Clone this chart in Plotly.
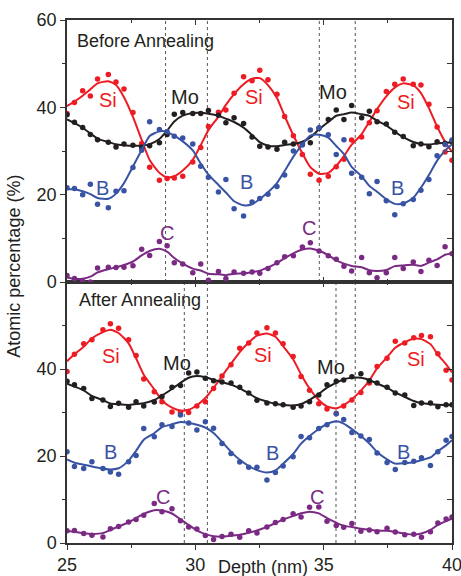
import numpy as np
import plotly.graph_objects as go

# ---------------- depth profile data (atomic %) ----------------
depth_before = [25.00, 25.29, 25.61, 25.91, 26.19, 26.61, 26.91, 27.22, 27.57, 27.91,
                28.22, 28.60, 28.90, 29.18, 29.51, 29.90, 30.21, 30.51, 30.90, 31.19,
                31.51, 31.88, 32.21, 32.51, 32.83, 33.18, 33.48, 33.82, 34.17, 34.48,
                34.82, 35.18, 35.49, 35.79, 36.09, 36.48, 36.78, 37.08, 37.44, 37.77,
                38.10, 38.49, 38.79, 39.10, 39.42, 39.73, 40.00]
si_before = [38.6, 41.1, 43.8, 42.6, 46.5, 47.5, 45.8, 44.2, 38.8, 31.7,
             26.3, 23.3, 23.7, 23.8, 24.2, 27.5, 30.8, 35.6, 38.9, 39.4,
             43.2, 47.0, 46.1, 48.5, 46.3, 43.0, 37.9, 33.5, 29.2, 24.7,
             23.3, 24.2, 26.4, 28.1, 32.5, 33.2, 36.5, 39.2, 43.6, 45.3,
             46.5, 45.3, 45.1, 40.7, 35.5, 29.8, 27.9]
mo_before = [38.3, 36.6, 35.4, 33.8, 32.6, 32.0, 30.9, 31.6, 31.3, 30.8,
             31.2, 31.9, 33.8, 38.4, 38.8, 38.6, 38.6, 39.3, 38.2, 36.5,
             37.6, 36.3, 33.2, 31.1, 30.9, 30.4, 32.0, 31.6, 31.6, 31.9,
             35.2, 37.2, 39.4, 37.2, 40.4, 37.6, 39.1, 36.7, 36.2, 34.3,
             33.3, 31.2, 31.6, 31.0, 32.1, 31.8, 32.1]
b_before = [21.6, 21.4, 20.0, 22.4, 17.8, 17.0, 20.8, 20.9, 26.2, 30.2,
            36.7, 34.9, 34.4, 33.4, 33.0, 31.6, 26.5, 24.0, 20.6, 23.5,
            16.8, 15.1, 18.3, 19.1, 20.1, 21.9, 24.5, 30.0, 31.4, 34.8,
            35.3, 33.7, 29.2, 32.6, 24.9, 24.0, 20.2, 23.0, 18.6, 15.4,
            17.9, 18.9, 21.0, 23.5, 28.9, 31.5, 32.5]
c_before = [1.5, 0.8, 0.2, 0.0, 3.2, 3.4, 3.3, 3.4, 3.7, 7.5,
            6.1, 9.3, 8.3, 4.4, 4.1, 2.1, 4.1, 0.4, 2.4, 0.8,
            2.3, 2.0, 2.3, 2.0, 3.1, 4.4, 5.8, 6.0, 8.0, 9.0,
            7.1, 6.0, 5.2, 3.6, 2.5, 5.6, 2.1, 1.0, 2.1, 5.6,
            3.1, 4.6, 2.4, 5.0, 3.8, 8.1, 6.5]

depth_after = [25.00, 25.29, 25.65, 25.97, 26.40, 26.69, 27.01, 27.40, 27.69, 27.99,
               28.40, 28.70, 29.09, 29.42, 29.74, 30.06, 30.39, 30.71, 31.04, 31.39,
               31.73, 32.08, 32.40, 32.79, 33.12, 33.42, 33.81, 34.12, 34.45, 34.81,
               35.13, 35.49, 35.78, 36.10, 36.45, 36.78, 37.08, 37.47, 37.79, 38.16,
               38.51, 38.81, 39.16, 39.45, 39.77, 40.00]
si_after = [39.4, 43.4, 45.8, 46.7, 49.0, 50.4, 49.4, 46.7, 43.1, 37.7,
            34.8, 32.5, 30.1, 30.0, 30.0, 31.5, 32.5, 35.5, 38.4, 41.0,
            44.8, 46.0, 48.3, 49.5, 48.3, 45.8, 42.9, 38.3, 35.1, 32.0,
            30.8, 29.8, 31.5, 32.9, 34.6, 36.8, 40.6, 42.5, 46.4, 46.0,
            47.2, 47.7, 47.4, 43.5, 39.7, 37.5]
mo_after = [37.2, 36.4, 35.5, 33.2, 32.9, 31.4, 32.1, 31.2, 32.5, 31.5,
            32.4, 33.7, 35.8, 36.2, 39.1, 39.3, 37.9, 37.3, 37.0, 36.8,
            35.8, 34.5, 32.8, 32.2, 32.0, 31.8, 31.2, 31.5, 32.5, 34.0,
            36.4, 37.2, 37.5, 38.2, 38.9, 37.3, 36.8, 35.8, 34.5, 34.0,
            31.6, 32.2, 32.2, 31.3, 31.8, 31.8]
b_after = [21.0, 17.6, 17.1, 18.7, 17.1, 16.3, 15.8, 18.7, 20.1, 26.3,
           24.4, 27.2, 26.8, 29.4, 27.6, 26.0, 27.9, 26.4, 22.9, 20.6,
           18.6, 17.4, 17.4, 14.5, 16.2, 17.7, 19.8, 24.5, 24.2, 26.3,
           27.2, 29.7, 28.4, 25.4, 24.6, 23.8, 20.7, 18.5, 16.9, 18.5,
           18.8, 19.6, 17.8, 21.0, 23.6, 24.5]
c_after = [2.8, 2.9, 2.2, 1.8, 1.4, 3.3, 3.8, 4.8, 5.4, 6.4,
           9.1, 7.2, 7.9, 5.1, 3.7, 3.2, 1.7, 0.8, 1.5, 2.0,
           1.3, 2.8, 2.3, 3.7, 4.7, 5.4, 6.7, 6.0, 8.2, 8.3,
           5.0, 4.0, 3.6, 4.5, 2.7, 3.0, 2.6, 3.4, 2.5, 1.9,
           2.0, 1.3, 2.6, 4.6, 5.5, 6.0]

# layer interface positions (nm)
interfaces_before = [28.84, 30.47, 34.83, 36.23]
interfaces_after = [29.57, 30.47, 35.48, 36.23]

x_ticks = [25, 30, 35, 40]
x_minor = [27.5, 32.5, 37.5]

COLORS = {"Si": "#ED1C24", "Mo": "#231F20", "B": "#3953A4", "C": "#7B2A84"}
FONT = "Liberation Sans, Arial, sans-serif"
AXIS_COLOR = "#333333"


def smooth(values):
    """Weighted adjacent averaging (1-2-3-2-1) of a profile."""
    v = np.asarray(values, dtype=float)
    w = np.array([1, 2, 3, 2, 1], dtype=float)
    n = len(v)
    out = np.empty(n)
    for i in range(n):
        lo, hi = max(0, i - 2), min(n, i + 3)
        ww = w[lo - i + 2: hi - i + 2]
        out[i] = np.dot(ww, v[lo:hi]) / ww.sum()
    return out


fig = go.Figure()

panels = [
    ("x2", "y2", depth_before, {"Si": si_before, "Mo": mo_before, "B": b_before, "C": c_before}),
    ("x", "y", depth_after, {"Si": si_after, "Mo": mo_after, "B": b_after, "C": c_after}),
]

for xa, ya, depth, series in panels:
    for name, vals in series.items():
        col = COLORS[name]
        fig.add_trace(go.Scatter(
            x=depth, y=smooth(vals), mode="lines",
            line=dict(color=col, width=2, shape="spline", smoothing=0.6),
            xaxis=xa, yaxis=ya, showlegend=False, hoverinfo="skip"))
        fig.add_trace(go.Scatter(
            x=depth, y=vals, mode="markers",
            marker=dict(color=col, size=5.5),
            xaxis=xa, yaxis=ya, showlegend=False, name=name))

# empty traces so the mirrored tick axes are drawn
for xa, ya in [("x3", "y"), ("x4", "y2"), ("x", "y3"), ("x2", "y4")]:
    fig.add_trace(go.Scatter(x=[], y=[], xaxis=xa, yaxis=ya,
                             showlegend=False, hoverinfo="skip"))

# interface guide lines
shapes = []
for xv in interfaces_before:
    shapes.append(dict(type="line", xref="x2", yref="y2 domain", x0=xv, x1=xv, y0=0, y1=1,
                       line=dict(color="#555555", width=1, dash="dot"), layer="below"))
for xv in interfaces_after:
    shapes.append(dict(type="line", xref="x", yref="y domain", x0=xv, x1=xv, y0=0, y1=1,
                       line=dict(color="#555555", width=1, dash="dot"), layer="below"))

split = 0.499
common_x = dict(range=[25, 40], showgrid=False, zeroline=False, showline=True,
                linecolor=AXIS_COLOR, linewidth=1.5, tickcolor=AXIS_COLOR,
                tickwidth=1, tickvals=x_ticks, ticklen=5, automargin=False)
common_y = dict(range=[0, 60], showgrid=False, zeroline=False, showline=True,
                linecolor=AXIS_COLOR, linewidth=1.5, tickcolor=AXIS_COLOR,
                tickwidth=1, ticklen=5, automargin=False)

fig.update_layout(
    width=461, height=576,
    margin=dict(l=67, r=9, t=20, b=33, autoexpand=False),
    paper_bgcolor="white", plot_bgcolor="white",
    font=dict(family=FONT, size=18, color="#231F20"),
    shapes=shapes,
    xaxis=dict(common_x, anchor="y", ticks="outside", ticklabeloverflow="allow",
               minor=dict(tickvals=x_minor, ticklen=3, tickcolor=AXIS_COLOR, ticks="outside")),
    xaxis2=dict(common_x, anchor="y2", ticks="inside", showticklabels=False,
                minor=dict(tickvals=x_minor, ticklen=3, tickcolor=AXIS_COLOR, ticks="inside")),
    xaxis3=dict(common_x, overlaying="x", side="top", anchor="y", ticks="inside",
                showticklabels=False,
                minor=dict(tickvals=x_minor, ticklen=3, tickcolor=AXIS_COLOR, ticks="inside")),
    xaxis4=dict(common_x, overlaying="x2", side="top", anchor="y2", ticks="inside",
                showticklabels=False,
                minor=dict(tickvals=x_minor, ticklen=3, tickcolor=AXIS_COLOR, ticks="inside")),
    yaxis=dict(common_y, domain=[0, split], anchor="x", ticks="outside",
               tickvals=[0, 20, 40, 60], ticktext=["0", "20", "40", ""],
               minor=dict(tickvals=[10, 30, 50], ticklen=3, tickcolor=AXIS_COLOR, ticks="outside")),
    yaxis2=dict(common_y, domain=[split, 1], anchor="x2", ticks="outside",
                tickvals=[0, 20, 40, 60],
                minor=dict(tickvals=[10, 30, 50], ticklen=3, tickcolor=AXIS_COLOR, ticks="outside")),
    yaxis3=dict(common_y, overlaying="y", side="right", anchor="x", ticks="inside",
                tickvals=[0, 10, 20, 30, 40, 50, 60], showticklabels=False),
    yaxis4=dict(common_y, overlaying="y2", side="right", anchor="x2", ticks="inside",
                tickvals=[0, 10, 20, 30, 40, 50, 60], showticklabels=False),
)

annotations = [
    dict(text="Before Annealing", xref="paper", yref="paper", x=0.022, y=0.960,
         xanchor="left", yanchor="middle", showarrow=False, font=dict(size=18)),
    dict(text="After Annealing", xref="paper", yref="paper", x=0.025, y=0.465,
         xanchor="left", yanchor="middle", showarrow=False, font=dict(size=18)),
    dict(text="Atomic percentage (%)", xref="paper", yref="paper", x=-0.138, y=0.530,
         xanchor="center", yanchor="middle", textangle=-90, showarrow=False,
         font=dict(size=18)),
    dict(text="Depth (nm)", xref="paper", yref="paper", x=0.509, y=-0.045,
         xanchor="center", yanchor="middle", showarrow=False, font=dict(size=18)),
]

element_labels = [
    ("x2", "y2", [("Si", 26.6, 41.7), ("Mo", 29.6, 42.4), ("B", 26.4, 21.5), ("C", 28.9, 11.2),
                  ("Si", 32.3, 42.4), ("B", 32.0, 22.9), ("Mo", 35.36, 43.5), ("Si", 38.2, 41.2),
                  ("B", 37.86, 21.5), ("C", 34.43, 12.4)]),
    ("x", "y", [("Si", 26.7, 43.0), ("Mo", 29.3, 41.4), ("B", 26.7, 20.9), ("C", 28.74, 10.6),
                ("Si", 32.64, 43.2), ("Mo", 35.3, 40.5), ("Si", 38.6, 42.3), ("B", 33.0, 20.7),
                ("B", 38.1, 20.9), ("C", 34.74, 10.6)]),
]
for xa, ya, items in element_labels:
    for name, xv, yv in items:
        annotations.append(dict(text=name, xref=xa, yref=ya, x=xv, y=yv,
                                xanchor="center", yanchor="middle", showarrow=False,
                                font=dict(size=20, color=COLORS[name])))

fig.update_layout(annotations=annotations)

fig.write_html("out.html")
